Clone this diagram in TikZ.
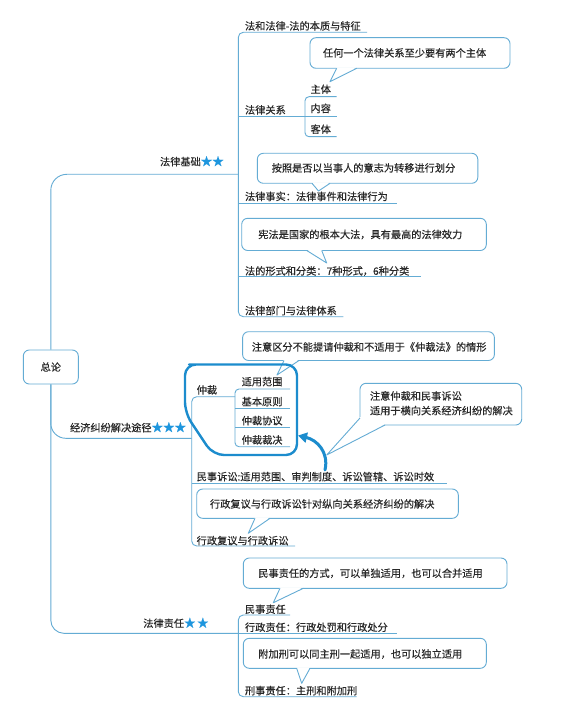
\documentclass[tikz,border=0pt]{standalone}
\usepackage{fontspec}
\setmainfont{Noto Sans CJK SC}[BoldFont={Noto Sans CJK SC},BoldFeatures={FakeBold=0.35}]
\usetikzlibrary{arrows.meta}
\definecolor{lnc}{RGB}{100,172,212}
\definecolor{blobc}{RGB}{28,140,205}
\definecolor{starc}{RGB}{30,150,222}
\definecolor{txtc}{RGB}{40,40,40}
\newcommand{\mkptr}[6]{%
  \fill[white] (#1,{#2-1}) -- (#3,{#4-1}) -- (#5,#6) -- cycle;
  \draw[ln] (#1,#2) -- (#5,#6) -- (#3,#4);}
\newcommand{\stars}[1]{\textcolor{starc}{\fontsize{11.5}{12}\selectfont #1}}
\begin{document}
\begin{tikzpicture}[x=1pt,y=-1pt,
  lbl/.style={inner sep=0pt, outer sep=0pt, anchor=west, text=txtc,
    font=\fontsize{10.2}{12}\selectfont\bfseries, text height=0.84em, text depth=0.08em},
  ln/.style={draw=lnc, line width=0.9pt, line join=round},
  callbox/.style={draw=lnc, line width=0.9pt, fill=white, rounded corners=6pt,
    inner sep=0pt, outer sep=0pt, anchor=north west},
  rootbox/.style={draw=lnc, line width=0.9pt, fill=white, rounded corners=6pt,
    minimum width=55pt, minimum height=34pt, inner sep=0pt, text=txtc,
    font=\fontsize{10.2}{12}\selectfont\bfseries},
  blobline/.style={draw=blobc, line width=2.4pt, line join=round, line cap=round},
]
\fill[white] (0,0) rectangle (579,714);
\useasboundingbox (0,0) rectangle (579,714);

% ---------- root and trunk ----------
\node[rootbox] (zl) at (50.8,367) {总论};
\coordinate (fjEnd) at (238.3,174.3);
\coordinate (jjEnd) at (191.7,438.3);
\coordinate (zrEnd) at (238.3,633.3);
\draw[ln, rounded corners=16pt] (zl.north) |- (fjEnd);
\draw[ln, rounded corners=15pt] (zl.south) |- (jjEnd);
\draw[ln, rounded corners=13pt] (zl.south) |- (zrEnd);

\node[lbl] (fj) at (160,161.7) {法律基础\stars{★★}};
\node[lbl] (jj) at (70,427.7) {经济纠纷解决途径\stars{★★★}};
\node[lbl] (zr) at (143.3,623.3) {法律责任\stars{★\hspace{1.5pt}★}};

% ---------- group 1: 法律基础 ----------
\coordinate (g1top) at (238.3,32.3);
\coordinate (g1bot) at (238.3,316.7);
\coordinate (a1e) at (367,32.3);
\coordinate (a6e) at (343.3,316.7);
\draw[ln, rounded corners=5pt] (a1e) -- (g1top) -- (g1bot) -- (a6e);
\coordinate (a2s) at (238.3,116.5);
\coordinate (a2e) at (336.7,116.5);
\draw[ln] (a2s) -- (a2e);
\coordinate (b1e) at (336.7,96.7);
\coordinate (b3e) at (336.7,136.7);
\draw[ln, rounded corners=4pt] (b1e) -- (305,96.7) -- (305,136.7) -- (b3e);
\coordinate (a3s) at (238.3,203);
\coordinate (a3e) at (396.7,203);
\draw[ln] (a3s) -- (a3e);
\coordinate (a4s) at (238.3,276.7);
\coordinate (a4e) at (421,276.7);
\draw[ln] (a4s) -- (a4e);

\node[lbl] (a1) at (245,26) {法和法律-法的本质与特征};
\node[lbl] (a2) at (245,110) {法律关系};
\node[lbl] (b1) at (310.5,89.3) {主体};
\node[lbl] (b2) at (310.5,108.5) {内容};
\node[lbl] (b3) at (310.5,129.3) {客体};
\node[lbl] (a3) at (245,196.5) {法律事实：法律事件和法律行为};
\node[lbl] (a4) at (245,271) {法的形式和分类：7种形式，6种分类};
\node[lbl] (a5) at (245,310.7) {法律部门与法律体系};

% callouts group 1
\node[callbox, minimum width=200pt, minimum height=30.6pt] (c1) at (310,37.7) {};
\mkptr{336.7}{68.3}{356.7}{68.3}{330}{81.7}
\node[lbl] (c1t) at (323,53) {任何一个法律关系至少要有两个主体};

\node[callbox, minimum width=220.5pt, minimum height=30pt] (c2) at (257.3,153.3) {};
\mkptr{312}{183.3}{330}{183.3}{318.5}{191}
\node[lbl] (c2t) at (271.7,168) {按照是否以当事人的意志为转移进行划分};

\node[callbox, minimum width=244.6pt, minimum height=32.2pt] (c3) at (241.7,218.3) {};
\mkptr{306.7}{250.5}{321.7}{250.5}{326.7}{263}
\node[lbl] (c3t) at (258.3,234.5) {宪法是国家的根本大法，具有最高的法律效力};

% ---------- group 2: 经济纠纷解决途径 ----------
\coordinate (e1e) at (235,396.7);
\coordinate (e4e) at (295,546);
\draw[ln, rounded corners=5pt] (e1e) -- (191.7,396.7) -- (191.7,546) -- (e4e);
\coordinate (e2s) at (191.7,483);
\coordinate (e2e) at (446.7,483);
\draw[ln] (e2s) -- (e2e);
\coordinate (f1e) at (290,389);
\coordinate (f4e) at (290,446.7);
\draw[ln, rounded corners=4pt] (f1e) -- (235,389) -- (235,446.7) -- (f4e);
\coordinate (f2s) at (235,408.3);
\coordinate (f2e) at (290,408.3);
\coordinate (f3s) at (235,427.3);
\coordinate (f3e) at (290,427.3);
\draw[ln] (f2s) -- (f2e);
\draw[ln] (f3s) -- (f3e);

\node[lbl] (e1) at (196.7,390) {仲裁};
\node[lbl] (f1) at (241.7,381.7) {适用范围};
\node[lbl] (f2) at (241.7,401.7) {基本原则};
\node[lbl] (f3) at (241.7,420.7) {仲裁协议};
\node[lbl] (f4) at (241.7,440) {仲裁裁决};
\node[lbl] (e2) at (196.7,476.7) {民事诉讼:适用范围、审判制度、诉讼管辖、诉讼时效};
\node[lbl] (e3) at (196.7,540.7) {行政复议与行政诉讼};

\node[callbox, minimum width=251.8pt, minimum height=28.8pt] (c4) at (242.6,331.7) {};
\mkptr{284}{360.5}{299}{360.5}{277}{375}
\node[lbl] (c4t) at (251.9,347) {注意区分不能提请仲裁和不适用于《仲裁法》的情形};

\node[callbox, minimum width=161.7pt, minimum height=41.7pt] (c6) at (360,383.3) {};
\mkptr{360}{418}{385}{425}{326.7}{455}
\node[lbl] (c6t1) at (370,396) {注意仲裁和民事诉讼};
\node[lbl] (c6t2) at (370,410.7) {适用于横向关系经济纠纷的解决};

\node[callbox, minimum width=261.6pt, minimum height=29.3pt] (c5) at (196.7,489) {};
\mkptr{255}{518.3}{270}{518.3}{248.3}{533.3}
\node[lbl] (c5t) at (210,504) {行政复议与行政诉讼针对纵向关系经济纠纷的解决};

% highlight outline and arrow
\draw[blobline, rounded corners=11pt] (200,364.5) -- (297,364.5) -- (297,455) -- (213,455) -- (185,413) -- (185,364.5) -- cycle;
\coordinate (arS) at (325,470);
\coordinate (arE) at (298,435.5);
\draw[blobline, line width=3pt, -{Triangle[length=9pt,width=10pt]}] (arS) .. controls (329,452) and (317,440) .. (arE);

% ---------- group 3: 法律责任 ----------
\coordinate (h1e) at (290,615);
\coordinate (h3e) at (356.7,696.7);
\draw[ln, rounded corners=5pt] (h1e) -- (238.3,615) -- (238.3,696.7) -- (h3e);
\coordinate (h2e) at (396.7,633.3);
\draw[ln] (zrEnd) -- (h2e);

\node[lbl] (h1) at (245,609.3) {民事责任};
\node[lbl] (h2) at (245,627.3) {行政责任：行政处罚和行政处分};
\node[lbl] (h3) at (245,690.7) {刑事责任：主刑和附加刑};

\node[callbox, minimum width=263.7pt, minimum height=30.3pt] (c7) at (243.3,558) {};
\mkptr{280}{588.3}{303.3}{588.3}{273.3}{602.7}
\node[lbl] (c7t) at (258.3,573.3) {民事责任的方式，可以单独适用，也可以合并适用};

\node[callbox, minimum width=243pt, minimum height=30pt] (c8) at (243.3,638.3) {};
\mkptr{296.7}{668.3}{310}{668.3}{301.7}{683.3}
\node[lbl] (c8t) at (258.3,654) {附加刑可以同主刑一起适用，也可以独立适用};
\end{tikzpicture}
\end{document}
